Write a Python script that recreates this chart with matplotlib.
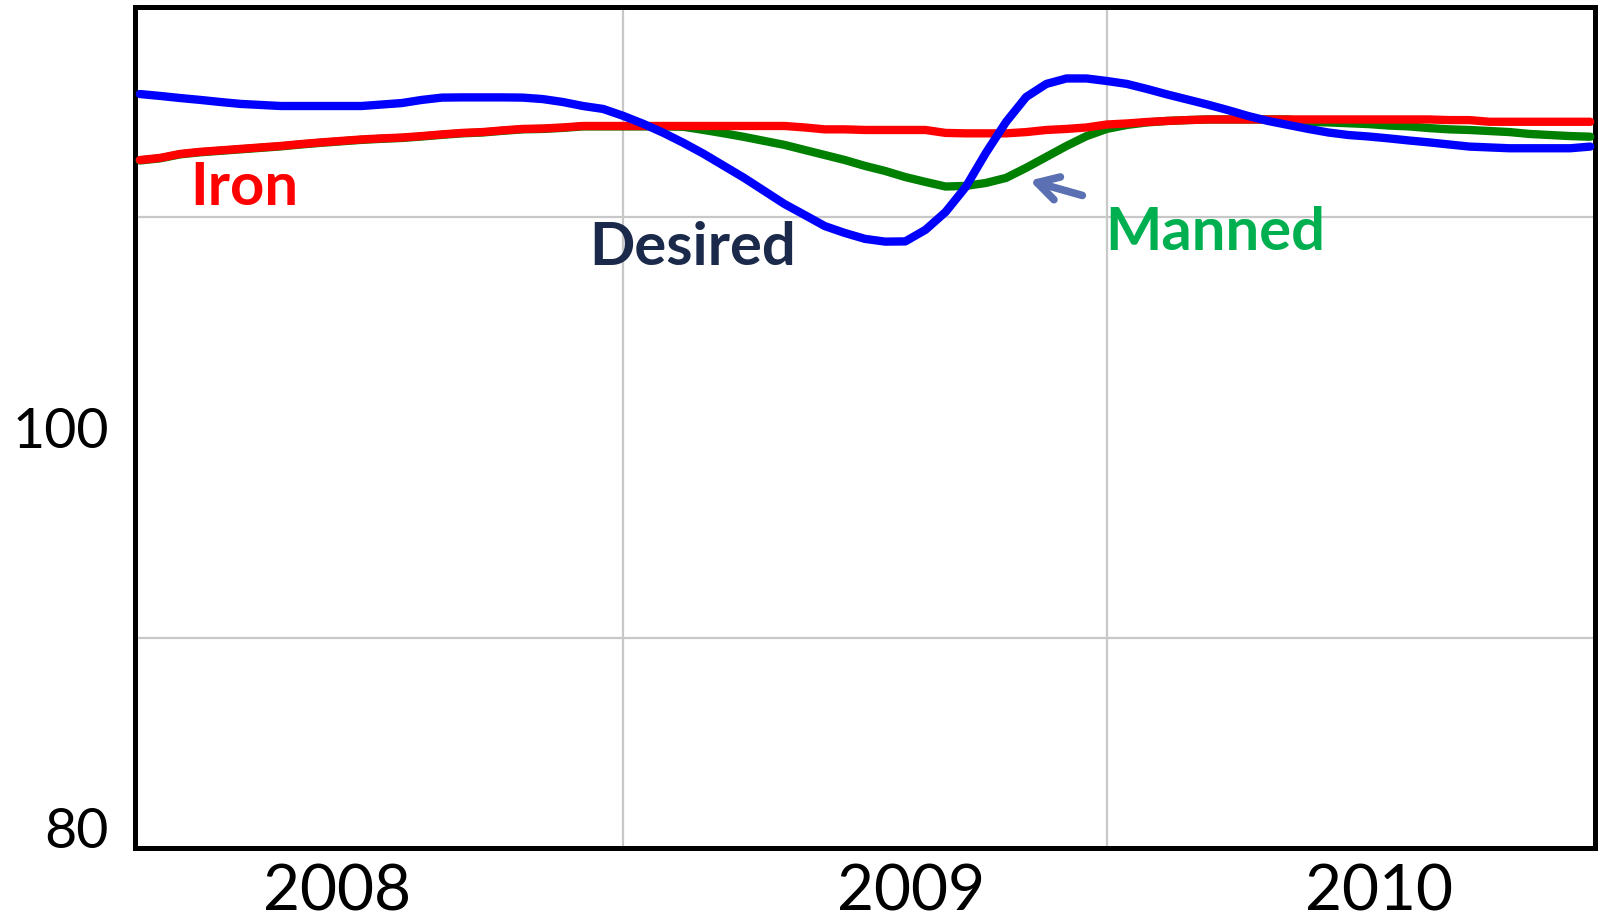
import numpy as np
import matplotlib
matplotlib.use("Agg")
from matplotlib import pyplot as plt

# half-monthly samples, mid-2007 to mid-2010
t = 2007.5 + np.arange(73) / 24.0

desired = [115.86, 115.77, 115.67, 115.58, 115.48, 115.39, 115.34, 115.29, 115.29, 115.29,
           115.29, 115.29, 115.36, 115.43, 115.58, 115.69, 115.70, 115.70, 115.70, 115.69,
           115.62, 115.48, 115.29, 115.15, 114.82, 114.44, 114.01, 113.53, 113.01, 112.44,
           111.87, 111.25, 110.63, 110.11, 109.58, 109.25, 108.97, 108.84, 108.85, 109.40,
           110.25, 111.44, 113.06, 114.53, 115.72, 116.34, 116.60, 116.60, 116.48, 116.34,
           116.10, 115.84, 115.60, 115.36, 115.10, 114.82, 114.58, 114.39, 114.20, 114.03,
           113.91, 113.84, 113.75, 113.65, 113.56, 113.46, 113.36, 113.32, 113.28, 113.28,
           113.28, 113.28, 113.36]

iron = [112.72, 112.82, 113.01, 113.11, 113.18, 113.25, 113.32, 113.39, 113.48, 113.56,
        113.63, 113.70, 113.75, 113.79, 113.86, 113.94, 114.01, 114.05, 114.13, 114.20,
        114.22, 114.27, 114.34, 114.34, 114.34, 114.34, 114.34, 114.34, 114.34, 114.34,
        114.34, 114.34, 114.34, 114.27, 114.18, 114.18, 114.15, 114.15, 114.15, 114.15,
        114.01, 113.99, 113.99, 113.99, 114.05, 114.15, 114.20, 114.27, 114.41, 114.46,
        114.53, 114.58, 114.62, 114.65, 114.65, 114.65, 114.65, 114.65, 114.65, 114.65,
        114.65, 114.65, 114.65, 114.65, 114.65, 114.62, 114.62, 114.54, 114.54, 114.54,
        114.54, 114.54, 114.54]

manned = [112.70, 112.80, 112.99, 113.09, 113.16, 113.23, 113.30, 113.37, 113.46, 113.54,
          113.61, 113.68, 113.73, 113.77, 113.84, 113.92, 113.99, 114.03, 114.11, 114.18,
          114.20, 114.25, 114.32, 114.32, 114.32, 114.32, 114.32, 114.30, 114.15, 113.99,
          113.82, 113.63, 113.44, 113.20, 112.96, 112.72, 112.44, 112.20, 111.91, 111.68,
          111.46, 111.49, 111.63, 111.87, 112.35, 112.87, 113.39, 113.86, 114.20, 114.39,
          114.51, 114.58, 114.62, 114.65, 114.65, 114.65, 114.65, 114.65, 114.53, 114.51,
          114.47, 114.43, 114.36, 114.32, 114.24, 114.18, 114.15, 114.10, 114.05, 113.96,
          113.91, 113.86, 113.83]

ytick_vals = [80, 100]
ygrid_vals = [90, 100, 110]
xgrid_vals = [2008.5, 2009.5]
xtick_vals = [2007.907, 2009.096, 2010.064]
xtick_labels = ["2008", "2009", "2010"]

plt.rcParams['font.family'] = ['Lato', 'DejaVu Sans']

fig = plt.figure(figsize=(16.01, 9.19), dpi=100)
ax = fig.add_axes([0.0843, 0.0773, 0.9120, 0.9151])

lw = 6.0
ax.plot(t, manned, color='#008000', lw=lw, solid_capstyle='round', zorder=3)
ax.plot(t, iron, color='#ff0000', lw=lw, solid_capstyle='round', zorder=4)
ax.plot(t, desired, color='#0000ff', lw=lw, solid_capstyle='round', zorder=5)

ax.set_xlim(2007.49, 2010.51)
ax.set_ylim(80, 120)

ax.set_yticks(ytick_vals)
ax.set_yticks(ygrid_vals, minor=True)
ax.set_xticks(xtick_vals)
ax.set_xticklabels(xtick_labels)
ax.set_xticks(xgrid_vals, minor=True)
ax.grid(which='minor', color='#c8c8c8', lw=1.6)
ax.grid(which='major', visible=False)
ax.tick_params(which='both', length=0)
ax.tick_params(axis='y', labelsize=40, pad=19)
ax.tick_params(axis='x', labelsize=46, pad=11)
ax.get_yticklabels()[0].set_va('baseline')

for s in ax.spines.values():
    s.set_linewidth(3.6)
    s.set_color('black')

# series labels
ax.text(2007.605, 111.4, "Iron", color='#ff0000', fontsize=43, fontweight='bold',
        ha='left', va='center')
ax.text(2008.43, 108.55, "Desired", color='#1b2a4a', fontsize=43, fontweight='bold',
        ha='left', va='center')
ax.text(2009.497, 109.25, "Manned", color='#00b050', fontsize=43, fontweight='bold',
        ha='left', va='center')
ax.annotate("", xy=(2009.335, 111.78), xytext=(2009.455, 111.0),
            arrowprops=dict(arrowstyle='->,head_length=1.5,head_width=0.85',
                            color='#5b70b3', lw=5.5))

fig.savefig("out.png", dpi=100)
